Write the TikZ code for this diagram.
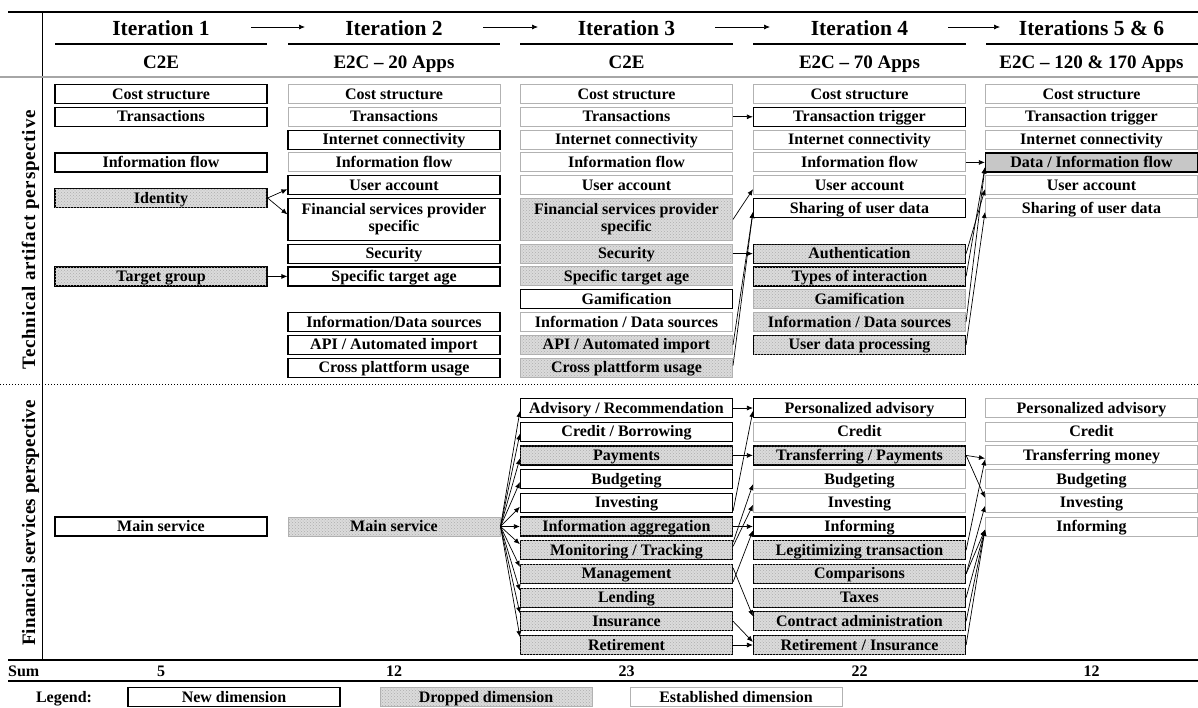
\documentclass[tikz,border=0pt]{standalone}
\usepackage{fontspec}
\setmainfont{Liberation Serif}
\usetikzlibrary{arrows.meta,patterns}
\newcommand\boxfont{\fontsize{16}{18}\selectfont\bfseries}
\newcommand\hdrfont{\fontsize{21.5}{24}\selectfont\bfseries}
\newcommand\subfont{\fontsize{19}{22}\selectfont\bfseries}
\newcommand\sidefont{\fontsize{19}{22}\selectfont\bfseries}
\tikzset{
  base/.style={minimum width=212pt, inner sep=0pt, font=\boxfont, align=center},
  box/.style={base, minimum height=19pt, text height=11.5pt, text depth=1.5pt},
  newb/.style={draw=black, line width=1.2pt},
  estb/.style={draw=black!30, line width=1pt},
  dropf/.style={fill=black!14, postaction={pattern=crosshatch dots, pattern color=black!32}},
  arr/.style={-{Latex[length=6pt,width=5pt]}, line width=0.7pt},
  hdr/.style={font=\hdrfont, anchor=base, inner sep=0pt},
  sub/.style={font=\subfont, anchor=base, inner sep=0pt},
  sumt/.style={font=\boxfont, inner sep=0pt},
}
\begin{document}
\begin{tikzpicture}[x=1pt, y=-1pt]
\useasboundingbox (0,0) rectangle (1198,707);

% ---- rules ----
\draw[line width=2pt] (8,12) -- (1198,12);
\draw[line width=1.5pt] (42.5,12) -- (42.5,660);
\foreach \l/\r in {55/267, 288/500, 520/733, 753/966, 986/1198}
  \draw[line width=2pt] (\l,44) -- (\r,44);
\draw[black!35, line width=1.5pt] (0,77) -- (1198,77);
\draw[dotted, line width=1pt] (0,384) -- (1198,384);
\draw[line width=2.5pt] (8,660) -- (1198,660);
\draw[line width=2pt] (8,681) -- (1198,681);

% ---- headers ----
\node[hdr] (h1) at (161,35.3) {Iteration 1};
\node[hdr] (h2) at (394,35.3) {Iteration 2};
\node[hdr] (h3) at (626.5,35.3) {Iteration 3};
\node[hdr] (h4) at (859.5,35.3) {Iteration 4};
\node[hdr] (h5) at (1091.5,35.3) {Iterations 5 \& 6};
\node[sub] (s1) at (161,68.3) {C2E};
\node[sub] (s2) at (394,68.3) {E2C – 20 Apps};
\node[sub] (s3) at (626.5,68.3) {C2E};
\node[sub] (s4) at (859.5,68.3) {E2C – 70 Apps};
\node[sub] (s5) at (1091.5,68.3) {E2C – 120 \& 170 Apps};
\coordinate (ha1) at (251,27); \coordinate (hb1) at (305,27);
\coordinate (ha2) at (483,27); \coordinate (hb2) at (538,27);
\coordinate (ha3) at (715,27); \coordinate (hb3) at (770,27);
\coordinate (ha4) at (948,27); \coordinate (hb4) at (1000,27);
\draw[arr] (ha1) -- (hb1);
\draw[arr] (ha2) -- (hb2);
\draw[arr] (ha3) -- (hb3);
\draw[arr] (ha4) -- (hb4);

% ---- side labels ----
\node[font=\sidefont, rotate=90, anchor=base, inner sep=0pt] (tap) at (35,240)
  {\addfontfeatures{LetterSpace=4}Technical artifact perspective};
\node[font=\sidefont, rotate=90, anchor=base, inner sep=0pt] (fsp) at (35,523)
  {\addfontfeatures{LetterSpace=1}Financial services perspective};

% ---- column 1 ----
\node[box,newb] (c1a) at (161,94) {Cost structure};
\node[box,newb] (c1b) at (161,116.8) {Transactions};
\node[box,newb] (c1c) at (161,162.4) {Information flow};
\node[box,newb,dropf] (c1d) at (161,198) {Identity};
\node[box,newb,dropf] (c1e) at (161,276.4) {Target group};
\node[box,newb] (c1f) at (161,526.5) {Main service};

% ---- column 2 ----
\node[box,estb] (c2a) at (394,94) {Cost structure};
\node[box,estb] (c2b) at (394,116.8) {Transactions};
\node[box,newb] (c2c) at (394,139.6) {Internet connectivity};
\node[box,estb] (c2d) at (394,162.4) {Information flow};
\node[box,newb] (c2e) at (394,185.2) {User account};
\node[base,newb,minimum height=41.8pt] (c2f) at (394,219.4) {Financial services provider\\[-1pt]specific};
\node[box,newb] (c2g) at (394,253.6) {Security};
\node[box,newb] (c2h) at (394,276.4) {Specific target age};
\node[box,newb] (c2i) at (394,322) {Information/Data sources};
\node[box,newb] (c2j) at (394,344.8) {API / Automated import};
\node[box,newb] (c2k) at (394,367.6) {Cross plattform usage};
\node[box,estb,dropf] (c2m) at (394,526.5) {Main service};

% ---- column 3 ----
\node[box,estb] (c3a) at (626.5,94) {Cost structure};
\node[box,estb] (c3b) at (626.5,116.8) {Transactions};
\node[box,estb] (c3c) at (626.5,139.6) {Internet connectivity};
\node[box,estb] (c3d) at (626.5,162.4) {Information flow};
\node[box,estb] (c3e) at (626.5,185.2) {User account};
\node[base,estb,dropf,minimum height=41.8pt] (c3f) at (626.5,219.4) {Financial services provider\\[-1pt]specific};
\node[box,estb,dropf] (c3g) at (626.5,253.6) {Security};
\node[box,estb,dropf] (c3h) at (626.5,276.4) {Specific target age};
\node[box,newb] (c3i) at (626.5,299.2) {Gamification};
\node[box,estb] (c3j) at (626.5,322) {Information / Data sources};
\node[box,estb,dropf] (c3k) at (626.5,344.8) {API / Automated import};
\node[box,estb,dropf] (c3l) at (626.5,367.6) {Cross plattform usage};
\node[box,newb] (f3a) at (626.5,408) {Advisory / Recommendation};
\node[box,newb] (f3b) at (626.5,431.7) {Credit / Borrowing};
\node[box,newb,dropf] (f3c) at (626.5,455.4) {Payments};
\node[box,newb] (f3d) at (626.5,479.1) {Budgeting};
\node[box,newb] (f3e) at (626.5,502.8) {Investing};
\node[box,newb,dropf] (f3f) at (626.5,526.5) {Information aggregation};
\node[box,newb,dropf] (f3g) at (626.5,550.2) {Monitoring / Tracking};
\node[box,newb,dropf] (f3h) at (626.5,573.9) {Management};
\node[box,newb,dropf] (f3i) at (626.5,597.6) {Lending};
\node[box,newb,dropf] (f3j) at (626.5,621.3) {Insurance};
\node[box,newb,dropf] (f3k) at (626.5,645) {Retirement};

% ---- column 4 ----
\node[box,estb] (c4a) at (859.5,94) {Cost structure};
\node[box,newb] (c4b) at (859.5,116.8) {Transaction trigger};
\node[box,estb] (c4c) at (859.5,139.6) {Internet connectivity};
\node[box,estb] (c4d) at (859.5,162.4) {Information flow};
\node[box,estb] (c4e) at (859.5,185.2) {User account};
\node[box,newb] (c4f) at (859.5,208) {Sharing of user data};
\node[box,newb,dropf] (c4g) at (859.5,253.6) {Authentication};
\node[box,newb,dropf] (c4h) at (859.5,276.4) {Types of interaction};
\node[box,estb,dropf] (c4i) at (859.5,299.2) {Gamification};
\node[box,estb,dropf] (c4j) at (859.5,322) {Information / Data sources};
\node[box,newb,dropf] (c4k) at (859.5,344.8) {User data processing};
\node[box,newb] (f4a) at (859.5,408) {Personalized advisory};
\node[box,estb] (f4b) at (859.5,431.7) {Credit};
\node[box,newb,dropf] (f4c) at (859.5,455.4) {Transferring / Payments};
\node[box,estb] (f4d) at (859.5,479.1) {Budgeting};
\node[box,estb] (f4e) at (859.5,502.8) {Investing};
\node[box,newb] (f4f) at (859.5,526.5) {Informing};
\node[box,newb,dropf] (f4g) at (859.5,550.2) {Legitimizing transaction};
\node[box,newb,dropf] (f4h) at (859.5,573.9) {Comparisons};
\node[box,newb,dropf] (f4i) at (859.5,597.6) {Taxes};
\node[box,newb,dropf] (f4j) at (859.5,621.3) {Contract administration};
\node[box,newb,dropf] (f4k) at (859.5,645) {Retirement / Insurance};

% ---- column 5 ----
\node[box,estb] (c5a) at (1091.5,94) {Cost structure};
\node[box,estb] (c5b) at (1091.5,116.8) {Transaction trigger};
\node[box,estb] (c5c) at (1091.5,139.6) {Internet connectivity};
\node[box,newb,fill=black!22] (c5d) at (1091.5,162.4) {Data / Information flow};
\node[box,estb] (c5e) at (1091.5,185.2) {User account};
\node[box,estb] (c5f) at (1091.5,208) {Sharing of user data};
\node[box,estb] (f5a) at (1091.5,408) {Personalized advisory};
\node[box,estb] (f5b) at (1091.5,431.7) {Credit};
\node[box,estb] (f5c) at (1091.5,455.4) {Transferring money};
\node[box,estb] (f5d) at (1091.5,479.1) {Budgeting};
\node[box,estb] (f5e) at (1091.5,502.8) {Investing};
\node[box,estb] (f5f) at (1091.5,526.5) {Informing};

% ---- technical connectors ----
\draw[arr] (c1d.east) -- ([yshift=-4pt]c2e.west);
\draw[arr] (c1d.east) -- ([yshift=5pt]c2f.west);
\draw[arr] (c1e.east) -- (c2h.west);
\draw[arr] (c3b.east) -- (c4b.west);
\draw[arr] (c3f.east) -- ([yshift=-4pt]c4e.west);
\draw[arr] (c3g.east) -- (c4g.west);
\draw[arr] (c3k.east) -- ([yshift=-4pt]c4f.west);
\draw[arr] ([yshift=2pt]c3l.east) -- ([yshift=-4pt]c4f.west);
\draw[arr] (c4d.east) -- (c5d.west);
\draw[arr] (c4g.east) -- ([yshift=-4pt]c5e.west);
\draw[arr] (c4h.east) -- ([yshift=-5pt]c5d.west);
\draw[arr] (c4j.east) -- ([yshift=-5pt]c5d.west);
\draw[arr] (c4k.east) -- ([yshift=-4pt]c5f.west);

% ---- financial connectors ----
\foreach \n/\s in {a/-3, b/-2, c/-3, d/-3, e/-4, f/0, g/6, h/7, i/7, j/8, k/8}
  \draw[arr] (c2m.east) -- ([yshift=\s pt]f3\n.west);
\draw[arr] (f3a.east) -- (f4a.west);
\draw[arr] (f3c.east) -- (f4c.west);
\draw[arr] (f3f.east) -- (f4f.west);
\draw[arr] ([yshift=-8pt]f3e.east) -- ([yshift=-3pt]f4a.west);
\draw[arr] ([yshift=8pt]f3g.east) -- ([yshift=-5pt]f4d.west);
\draw[arr] ([yshift=4pt]f3g.east) -- ([yshift=-2pt]f4e.west);
\draw[arr] ([yshift=-8pt]f3h.east) -- ([yshift=-4pt]f4f.west);
\draw[arr] ([yshift=6pt]f3h.east) -- ([yshift=5pt]f4j.west);
\draw[arr] (f3j.east) -- ([yshift=3pt]f4k.west);
\draw[arr] (f3k.east) -- (f4k.west);
\draw[arr] (f4c.east) -- ([yshift=-3pt]f5c.west);
\draw[arr] (f4c.east) -- ([yshift=5pt]f5e.west);
\draw[arr] (f4g.east) -- ([yshift=-4pt]f5c.west);
\draw[arr] (f4h.east) -- ([yshift=-3pt]f5e.west);
\draw[arr] (f4h.east) -- ([yshift=-3pt]f5f.west);
\draw[arr] (f4i.east) -- ([yshift=-3pt]f5f.west);
\draw[arr] (f4j.east) -- ([yshift=-3pt]f5f.west);
\draw[arr] (f4k.east) -- ([yshift=-3pt]f5f.west);

% ---- sum row ----
\node[sumt, anchor=west] (sum) at (8,671) {Sum};
\node[sumt] (sm1) at (161,671) {5};
\node[sumt] (sm2) at (394,671) {12};
\node[sumt] (sm3) at (626.5,671) {23};
\node[sumt] (sm4) at (859.5,671) {22};
\node[sumt] (sm5) at (1091.5,671) {12};

% ---- legend ----
\node[sumt, text height=11.5pt, text depth=1.5pt] (leg) at (64,697) {Legend:};
\node[box,newb] (l1) at (234,697) {New dimension};
\node[box,estb,dropf] (l2) at (486,697) {Dropped dimension};
\node[box,estb] (l3) at (736,697) {Established dimension};
\end{tikzpicture}
\end{document}
